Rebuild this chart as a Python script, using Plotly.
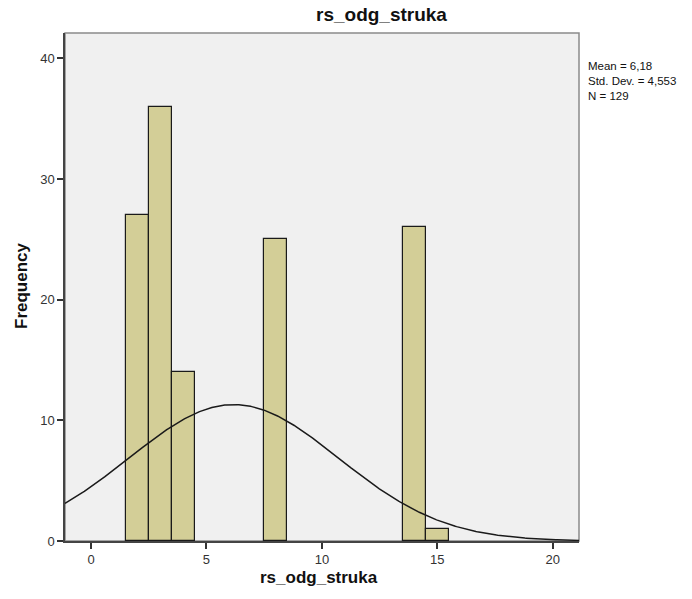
import numpy as np
import plotly.graph_objects as go

# Data (bin width 1)
bin_centers = [2, 3, 4, 8, 14, 15]
frequencies = [27, 36, 14, 25, 26, 1]
x_ticks = [0, 5, 10, 15, 20]
y_ticks = [0, 10, 20, 30, 40]
stat_mean = 6.18
stat_sd = 4.553
stat_n = 129
bin_width = 1.0

X_RANGE = [-1.13, 21.14]
Y_RANGE = [0, 42.1]

FONT = "Arial, 'Liberation Sans', sans-serif"

# Normal curve overlay (SPSS-style), from the displayed mean / sd / N
xs = np.linspace(X_RANGE[0], X_RANGE[1], 400)
ys = stat_n * bin_width / (stat_sd * np.sqrt(2 * np.pi)) * np.exp(-((xs - stat_mean) ** 2) / (2 * stat_sd ** 2))

fig = go.Figure()
fig.add_trace(go.Bar(
    x=bin_centers, y=frequencies, width=bin_width,
    marker=dict(color="#D3CE97", line=dict(color="#1a1a1a", width=1.2)),
    hoverinfo="x+y", showlegend=False,
))
fig.add_trace(go.Scatter(
    x=xs, y=ys, mode="lines",
    line=dict(color="#1a1a1a", width=1.5),
    hoverinfo="skip", showlegend=False,
))

W, H = 692, 599
L, T = 65, 33
R = W - 579
B = H - 541
pw = W - L - R
ph = H - T - B


def px_x(page_x):
    return (page_x - L) / pw


def px_y(page_y):
    return (H - B - page_y) / ph


fig.update_layout(
    width=W, height=H,
    margin=dict(l=L, r=R, t=T, b=B, pad=0),
    paper_bgcolor="white",
    plot_bgcolor="#F0F0F0",
    font=dict(family=FONT, color="#222"),
    bargap=0,
    xaxis=dict(
        range=X_RANGE, tickvals=x_ticks, ticktext=[str(v) for v in x_ticks],
        showgrid=False, zeroline=False,
        showline=True, linecolor="#444", linewidth=1.5,
        ticks="outside", ticklen=6, tickwidth=1.5, tickcolor="#333",
        tickfont=dict(size=13, color="#333"),
    ),
    yaxis=dict(
        range=Y_RANGE, tickvals=y_ticks, ticktext=[str(v) for v in y_ticks],
        showgrid=False, zeroline=False,
        showline=True, linecolor="#444", linewidth=1.5,
        ticks="outside", ticklen=6, tickwidth=1.5, tickcolor="#333",
        tickfont=dict(size=13, color="#333"),
    ),
    shapes=[dict(
        type="rect", xref="paper", yref="paper", x0=0, x1=1, y0=0, y1=1,
        line=dict(color="#8a8a8a", width=1.5), layer="below",
    )],
    annotations=[
        dict(text="<b>rs_odg_struka</b>", xref="paper", yref="paper",
             x=px_x(315), y=px_y(14),
             xanchor="left", yanchor="middle", showarrow=False, borderpad=0,
             font=dict(size=19, color="#111")),
        dict(text="<b>rs_odg_struka</b>", xref="paper", yref="paper",
             x=px_x(319), y=px_y(577),
             xanchor="center", yanchor="middle", showarrow=False,
             font=dict(size=17, color="#111")),
        dict(text="<b>Frequency</b>", xref="paper", yref="paper",
             x=px_x(21), y=px_y(286),
             xanchor="center", yanchor="middle", textangle=-90, showarrow=False,
             font=dict(size=17, color="#111")),
        dict(text="Mean = 6,18<br>Std. Dev. = 4,553<br>N = 129", xref="paper", yref="paper",
             x=px_x(586), y=px_y(58),
             xanchor="left", yanchor="top", align="left", showarrow=False,
             font=dict(size=11.5, color="#111")),
    ],
)

fig.write_html(
    "out.html",
    config={"displayModeBar": False},
    post_script="document.body.style.margin='0';document.body.style.overflow='hidden';",
)
